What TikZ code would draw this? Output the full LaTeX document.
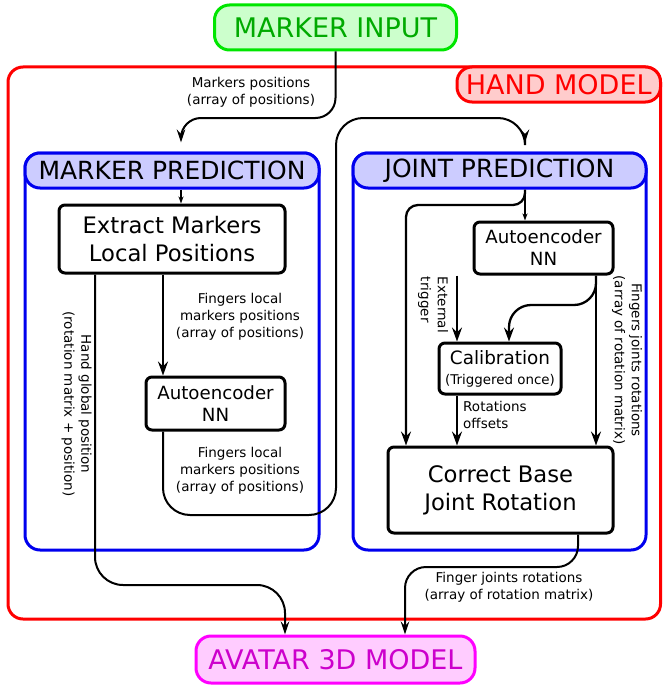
\documentclass[tikz,border=0pt]{standalone}
\usepackage{fontspec}
\setmainfont{DejaVu Sans}
\usetikzlibrary{arrows.meta,calc}
\definecolor{gborder}{HTML}{00E600}
\definecolor{gfill}{HTML}{CCFFCC}
\definecolor{gtext}{HTML}{00AA00}
\definecolor{rborder}{HTML}{FF0000}
\definecolor{rfill}{HTML}{FFCCCC}
\definecolor{bborder}{HTML}{0000EE}
\definecolor{bfill}{HTML}{CCCCFF}
\definecolor{mborder}{HTML}{FF00FF}
\definecolor{mfill}{HTML}{FFCCFF}
\definecolor{mtext}{HTML}{CC00CC}
\tikzset{
  conn/.style={draw=black, line width=2pt, -{Stealth[length=13pt,width=8.5pt,inset=4.5pt]}},
  connthick/.style={draw=black, line width=2.7pt, -{Stealth[length=14pt,width=10pt,inset=5pt]}},
  connsmall/.style={draw=black, line width=1.6pt, -{Stealth[length=7pt,width=5pt,inset=2pt]}},
  box/.style={draw=black, line width=3pt, rounded corners=6pt, fill=white, inner sep=0pt, align=center},
  container/.style={line width=3pt, rounded corners=15pt, inner sep=0pt},
  title/.style={line width=3pt, rounded corners=15pt, inner sep=0pt, align=center, font=\fontsize{27}{32}\selectfont},
  header/.style={draw=bborder, fill=bfill, line width=3pt, rounded corners=15pt, inner sep=0pt, minimum height=35pt, font=\fontsize{25}{30}\selectfont},
  lbl/.style={inner sep=0pt, align=center, font=\fontsize{13.5}{17}\selectfont},
  bigtxt/.style={font=\fontsize{22.7}{28}\selectfont},
  medtxt/.style={font=\fontsize{18.2}{22}\selectfont}
}
\begin{document}
\begin{tikzpicture}[x=1pt,y=-1pt]
\useasboundingbox (0,0) rectangle (662,685);
% containers
\node[container, draw=rborder, minimum width=652.5pt, minimum height=552pt] (hand) at (334.25,343) {};
\node[title, draw=rborder, fill=rfill, text=rborder, minimum width=203.5pt, minimum height=35pt] (handlbl) at (558.75,84.5) {HAND MODEL};
\node[container, draw=bborder, minimum width=294pt, minimum height=397pt] (mp) at (172,351.5) {};
\node[container, draw=bborder, minimum width=293pt, minimum height=397pt] (jp) at (499.5,351.5) {};
\node[header, minimum width=294pt] (mphead) at (172,170.5) {MARKER PREDICTION};
\node[header, minimum width=293pt] (jphead) at (499.5,170.5) {JOINT PREDICTION};
% in/out
\node[title, draw=gborder, fill=gfill, text=gtext, minimum width=242pt, minimum height=45pt] (input) at (335.5,27.5) {MARKER INPUT};
\node[title, draw=mborder, fill=mfill, text=mtext, minimum width=279pt, minimum height=47pt] (avatar) at (335.5,659.5) {AVATAR 3D MODEL};
% boxes
\node[box, bigtxt, minimum width=226pt, minimum height=68pt] (extract) at (172,239) {Extract Markers\\Local Positions};
\node[box, medtxt, minimum width=139pt, minimum height=53pt] (autoL) at (215.5,403.5) {Autoencoder\\NN};
\node[box, medtxt, minimum width=139pt, minimum height=52pt] (autoR) at (543.5,248) {Autoencoder\\NN};
\node[box, font=\fontsize{13.4}{20}\selectfont, minimum width=122pt, minimum height=51pt] (calib) at (500,368.5) {{\fontsize{18.4}{20}\selectfont Calibration}\\(Triggered once)};
\node[box, bigtxt, minimum width=225pt, minimum height=86pt] (correct) at (500.5,490) {Correct Base\\Joint Rotation};
% helper coordinates
\coordinate (xa) at (181,0);
\coordinate (xb) at (163,0);
\coordinate (xc) at (95,0);
\coordinate (xd) at (336,0);
\coordinate (xe) at (525,0);
\coordinate (xf) at (406,0);
\coordinate (xg) at (457,0);
\coordinate (xh) at (509,0);
\coordinate (xi) at (596,0);
\coordinate (xj) at (578,0);
\coordinate (xk) at (405,0);
\coordinate (xl) at (285,0);
\coordinate (yA) at (0,118);
\coordinate (yB) at (0,515);
\coordinate (yC) at (0,205);
\coordinate (yD) at (0,305);
\coordinate (yE) at (0,567);
\coordinate (yF) at (0,585);
% connectors
\draw[conn, rounded corners=20pt, shorten >=9pt] (input.south) -- (input.south |- yA) -| (mphead.north -| xa);
\draw[connsmall] (mphead.south -| xa) -- (extract.north -| xa);
\draw[connthick] (extract.south -| xb) -- (autoL.north -| xb);
\draw[conn, rounded corners=27pt, shorten >=9pt] (autoL.south -| xb) |- (xd |- yB) -- (xd |- yA) -| (jphead.north -| xe);
\draw[connsmall] (jphead.south -| xe) -- (autoR.north -| xe);
\draw[connthick, line width=2.3pt, rounded corners=12pt] (jphead.south -| xe) |- (xf |- yC) -- (correct.north -| xf);
\draw[connthick] (autoR.south -| xg) -- (calib.north -| xg);
\draw[connthick] (autoR.south -| xi) -- (correct.north -| xi);
\draw[connthick, line width=2.3pt, rounded corners=22pt] (autoR.south -| xi) |- (xh |- yD) -- (calib.north -| xh);
\draw[connthick] (calib.south -| xg) -- (correct.north -| xg);
\draw[conn, rounded corners=21pt] (correct.south -| xj) |- (xk |- yE) -- (avatar.north -| xk);
\draw[conn, rounded corners=28pt] (extract.south -| xc) |- (xl |- yF) -- (avatar.north -| xl);
% labels
\node[lbl] (l1) at (251,92.5) {Markers positions\\(array of positions)};
\node[lbl] (l2) at (240,317) {Fingers local\\markers positions\\(array of positions)};
\node[lbl] (l3) at (240,471) {Fingers local\\markers positions\\(array of positions)};
\node[lbl, rotate=-90] (l4) at (76.5,404) {Hand global position\\(rotation matrix + position)};
\node[lbl, align=left, rotate=-90] (l5) at (433,305) {External\\trigger};
\node[lbl, rotate=-90] (l6) at (627,360) {Fingers joints rotations\\(array of rotation matrix)};
\node[lbl, align=left, anchor=west] (l7) at (463,415) {Rotations\\offsets};
\node[lbl] (l8) at (509,587.5) {Finger joints rotations\\(array of rotation matrix)};
\end{tikzpicture}
\end{document}
